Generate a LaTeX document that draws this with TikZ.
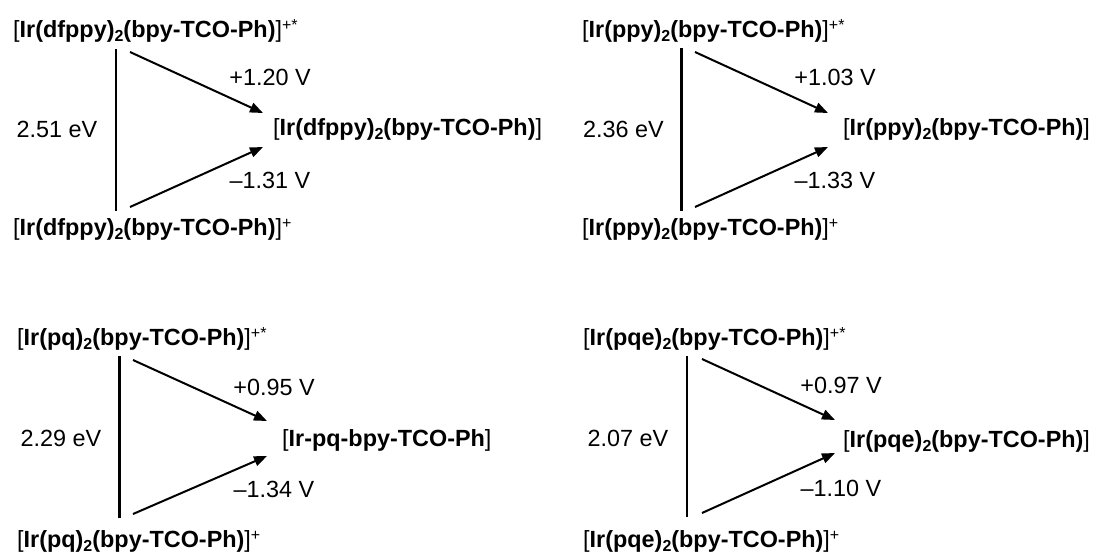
\documentclass[tikz,border=0pt]{standalone}
\usepackage{fontspec}
\setmainfont{Liberation Sans}
\usetikzlibrary{arrows.meta}
\newcommand{\lsub}[1]{\raisebox{-4pt}{\fontsize{16}{16}\selectfont\bfseries #1}}
\newcommand{\lsup}[1]{\raisebox{7pt}{\fontsize{16}{16}\selectfont\mdseries #1}}
\tikzset{
  st/.style={anchor=base west, inner sep=0pt, font=\fontsize{23.4}{28}\selectfont},
  num/.style={anchor=base, inner sep=0pt, font=\fontsize{23.4}{28}\selectfont},
  arr/.style={-{Triangle[length=13pt,width=10pt]}, line width=2pt},
  vline/.style={line width=2.6pt}
}
\begin{document}
\begin{tikzpicture}[x=1pt,y=-1pt]
\fill[white] (0,0) rectangle (1104,555);
\useasboundingbox (0,0) rectangle (1104,555);
% ---------- top left ----------
\node[st] (tl-hi) at (13,37) {[\textbf{Ir(dfppy)\lsub{2}(bpy-TCO-Ph)}]\lsup{+*}};
\node[st] (tl-mid) at (273,135) {[\textbf{Ir(dfppy)\lsub{2}(bpy-TCO-Ph)}]};
\node[st] (tl-lo) at (13,235) {[\textbf{Ir(dfppy)\lsub{2}(bpy-TCO-Ph)}]\lsup{+}};
\node[num] (tl-e) at (57,137) {2.51 eV};
\node[num] (tl-ox) at (270,85) {+1.20 V};
\node[num] (tl-red) at (270,188) {–1.31 V};
\coordinate (tl-v1) at (116,49);
\coordinate (tl-v2) at (116,211);
\coordinate (tl-a1) at (130,52);
\coordinate (tl-t1) at (263,113);
\coordinate (tl-a2) at (130,207);
\coordinate (tl-t2) at (263,147);
\draw[vline, line width=2.2pt] (tl-v1) -- (tl-v2);
\draw[arr] (tl-a1) -- (tl-t1);
\draw[arr] (tl-a2) -- (tl-t2);
% ---------- top right ----------
\node[st] (tr-hi) at (582,37) {[\textbf{Ir(ppy)\lsub{2}(bpy-TCO-Ph)}]\lsup{+*}};
\node[st] (tr-mid) at (843,135) {[\textbf{Ir(ppy)\lsub{2}(bpy-TCO-Ph)}]};
\node[st] (tr-lo) at (582,235) {[\textbf{Ir(ppy)\lsub{2}(bpy-TCO-Ph)}]\lsup{+}};
\node[num] (tr-e) at (623.5,137) {2.36 eV};
\node[num] (tr-ox) at (835,85) {+1.03 V};
\node[num] (tr-red) at (835,188) {–1.33 V};
\coordinate (tr-v1) at (681,48);
\coordinate (tr-v2) at (681,211);
\coordinate (tr-a1) at (695,52);
\coordinate (tr-t1) at (828,113);
\coordinate (tr-a2) at (695,207);
\coordinate (tr-t2) at (828,147);
\draw[vline, line width=3pt] (tr-v1) -- (tr-v2);
\draw[arr] (tr-a1) -- (tr-t1);
\draw[arr] (tr-a2) -- (tr-t2);
% ---------- bottom left ----------
\node[st] (bl-hi) at (17,345) {[\textbf{Ir(pq)\lsub{2}(bpy-TCO-Ph)}]\lsup{+*}};
\node[st] (bl-mid) at (282,446) {[\textbf{Ir-pq-bpy-TCO-Ph}]};
\node[st] (bl-lo) at (17,547) {[\textbf{Ir(pq)\lsub{2}(bpy-TCO-Ph)}]\lsup{+}};
\node[num] (bl-e) at (61,446) {2.29 eV};
\node[num] (bl-ox) at (274,395) {+0.95 V};
\node[num] (bl-red) at (274,497) {–1.34 V};
\coordinate (bl-v1) at (119,356);
\coordinate (bl-v2) at (119,518);
\coordinate (bl-a1) at (133,360);
\coordinate (bl-t1) at (267,421);
\coordinate (bl-a2) at (133,514);
\coordinate (bl-t2) at (267,456);
\draw[vline, line width=3pt] (bl-v1) -- (bl-v2);
\draw[arr] (bl-a1) -- (bl-t1);
\draw[arr] (bl-a2) -- (bl-t2);
% ---------- bottom right ----------
\node[st] (br-hi) at (583,345) {[\textbf{Ir(pqe)\lsub{2}(bpy-TCO-Ph)}]\lsup{+*}};
\node[st] (br-mid) at (843,447) {[\textbf{Ir(pqe)\lsub{2}(bpy-TCO-Ph)}]};
\node[st] (br-lo) at (583,547) {[\textbf{Ir(pqe)\lsub{2}(bpy-TCO-Ph)}]\lsup{+}};
\node[num] (br-e) at (628,446) {2.07 eV};
\node[num] (br-ox) at (841,393) {+0.97 V};
\node[num] (br-red) at (841,496) {–1.10 V};
\coordinate (br-v1) at (687,356);
\coordinate (br-v2) at (687,517);
\coordinate (br-a1) at (702,359);
\coordinate (br-t1) at (835,420);
\coordinate (br-a2) at (702,513);
\coordinate (br-t2) at (835,453);
\draw[vline, line width=2.4pt] (br-v1) -- (br-v2);
\draw[arr] (br-a1) -- (br-t1);
\draw[arr] (br-a2) -- (br-t2);
\end{tikzpicture}
\end{document}
